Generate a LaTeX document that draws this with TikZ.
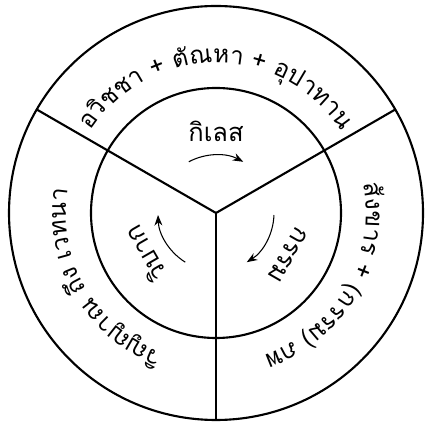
\documentclass[tikz,border=0pt]{standalone}
\usepackage{fontspec}
\setmainfont{Loma}[Script=Thai]
\usetikzlibrary{arrows.meta,decorations.text}

\begin{document}
\begin{tikzpicture}[>={Stealth[length=6pt,width=4.5pt]},
    ring/.style={line width=1.2pt},
    cycle arrow/.style={->, line width=0.6pt},
    stage/.style={font=\fontsize{14.5}{17}\selectfont}]
  \useasboundingbox (-4.32,-4.24) rectangle (4.16,4.26);
  \coordinate (hub) at (0,0);
  \draw[ring] (hub) circle (4.14);
  \draw[ring] (hub) circle (2.5);
  \draw[ring] (hub) -- (30:4.14);
  \draw[ring] (hub) -- (150:4.14);
  \draw[ring] (hub) -- (270:4.14);
  % outer ring, text runs clockwise with tops outward
  \path[decorate, decoration={text along path, text align=center,
      text={|\fontsize{14}{17}\selectfont|อ{วิ}ชชา + {ตั}ณหา + {อุ}ปาทาน}}]
    (160:3.0) arc[start angle=160, end angle=20, radius=3.0];
  \path[decorate, decoration={text along path, text align=center,
      text={|\fontsize{14}{17}\selectfont|{สั}งขาร + (กรรม) ภพ}}]
    (40:3.0) arc[start angle=40, end angle=-100, radius=3.0];
  \path[decorate, decoration={text along path, text align=center,
      text={|\fontsize{14}{17}\selectfont|{วิ}ญญาณ {ถึ}ง เวทนา}}]
    (-80:3.0) arc[start angle=-80, end angle=-220, radius=3.0];
  % inner labels and arrows
  \node[stage] (kilet) at (90:1.64) {กิเลส};
  \node[stage, rotate=-120] (kam) at (-30:1.66) {กรรม};
  \node[stage, rotate=120] (wibak) at (210:1.64) {วิบาก};
  \draw[cycle arrow] (118:1.16) arc[start angle=118, end angle=62, radius=1.16];
  \draw[cycle arrow] (-2:1.16) arc[start angle=-2, end angle=-58, radius=1.16];
  \draw[cycle arrow] (238:1.16) arc[start angle=238, end angle=182, radius=1.16];
\end{tikzpicture}
\end{document}
